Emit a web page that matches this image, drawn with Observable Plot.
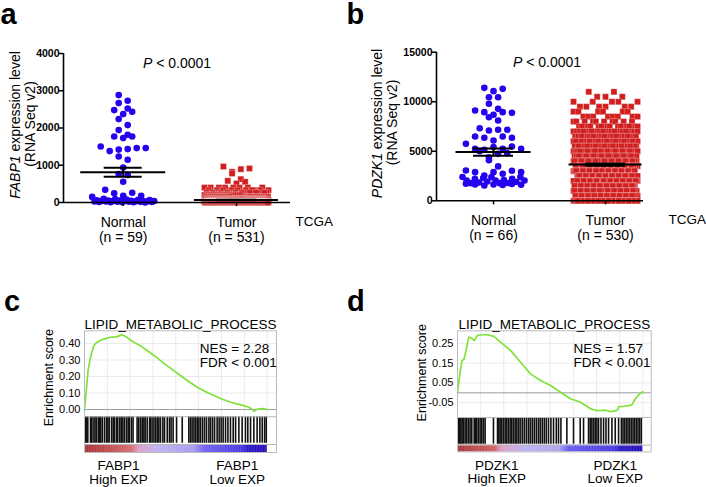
<!DOCTYPE html>
<html><head><meta charset="utf-8">
<script src="https://cdn.jsdelivr.net/npm/d3@7"></script>
<script src="https://cdn.jsdelivr.net/npm/@observablehq/plot@0.6"></script>
<style>
body{margin:0;background:#fff;}
#fig{position:relative;width:706px;height:487px;overflow:hidden;background:#fff;font-family:"Liberation Sans",Arial,sans-serif;}
.panel{position:absolute}
.panel svg{overflow:visible}
#letters{position:absolute;left:0;top:0;pointer-events:none}
</style></head><body><div id="fig"></div><script>
// ---------------- data ----------------
const groupNames = ["Normal", "Tumor"];
const fabp1N = [59, 531];
const pdzk1N = [66, 530];
const fabp1Ticks = [0, 1000, 2000, 3000, 4000];
const pdzk1Ticks = [0, 5000, 10000, 15000];

const fabp1Normal = [2883,2730,2668,2523,2480,2435,2373,2239,2078,1944,1817,1772,1772,1729,1503,1460,1460,1433,1420,1380,1235,1146,940,762,735,556,
  340,260,250,180,180,150,
  100,90,80,70,65,60,55,50,48,45,42,40,38,35,32,30,28,25,22,20,18,15,12,10,8,5,3];
// [value, count]
const fabp1TumorBins = [[966,1],[913,1],[895,1],[823,1],[779,1],[626,1],[582,1],[555,1],[510,1],
  [400,8],[330,10],[260,14],[200,18],[150,24],[100,35],[60,70],[30,100],[10,130],[0,113]];

const pdzk1Normal = [11400,11300,11070,10460,10460,9790,9280,9110,8950,8950,8880,8680,8440,8110,7330,7170,7170,7100,6490,6490,6360,6360,6090,
  5750,5480,5420,5250,5250,5250,5150,5010,4810,4740,4400,4100,
  3470,3060,3030,2890,2890,2890,2730,2560,2400,2390,2390,2300,2220,2220,2100,2050,2050,2050,1950,1900,1850,1800,1780,1780,1720,1700,1650,1650,1620,1600,1550];
const pdzk1TumorBins = [[11000,2],[10500,3],[10000,5],[9500,6],[9000,6],[8500,8],[8000,10],[7500,14],[7000,19],[6500,21],[6000,24],
  [5500,29],[5000,30],[4500,31],[4000,32],[3500,33],[3000,34],[2500,35],[2000,35],[1500,36],[1000,36],[500,36],[0,45]];

// GSEA running enrichment score: [rank fraction, ES]
const fabp1Curve = [[0,-0.005],[0.01,0.12],[0.02,0.24],[0.033,0.317],[0.051,0.388],[0.069,0.408],[0.1,0.425],[0.142,0.438],[0.175,0.44],[0.206,0.453],[0.23,0.44],[0.252,0.42],[0.3,0.39],[0.343,0.358],[0.39,0.32],[0.434,0.28],[0.48,0.243],[0.525,0.206],[0.57,0.17],[0.617,0.135],[0.66,0.11],[0.708,0.085],[0.755,0.062],[0.8,0.044],[0.85,0.03],[0.89,0.018],[0.91,0.008],[0.927,-0.01],[0.945,0.002],[0.963,0.004],[0.98,0.006],[1.0,0.0]];
const pdzk1Curve = [[0,0],[0.008,0.06],[0.015,0.11],[0.025,0.164],[0.035,0.17],[0.045,0.21],[0.052,0.24],[0.061,0.282],[0.07,0.28],[0.079,0.274],[0.092,0.265],[0.106,0.29],[0.13,0.294],[0.16,0.294],[0.196,0.286],[0.232,0.257],[0.286,0.215],[0.34,0.155],[0.394,0.096],[0.448,0.062],[0.502,0.037],[0.556,0.003],[0.61,-0.03],[0.664,-0.048],[0.718,-0.081],[0.754,-0.09],[0.8,-0.088],[0.824,-0.095],[0.86,-0.09],[0.87,-0.07],[0.9,-0.068],[0.94,-0.062],[0.95,-0.045],[0.96,-0.03],[0.977,-0.01],[0.99,0.0],[1.0,0.005]];
// gene-set hit ranks (per 1000)
const fabp1Hits = [5,11,18,33,38,47,57,64,75,82,88,97,109,120,128,135,148,157,164,175,182,193,201,210,219,230,239,246,257,266,288,297,307,316,325,332,343,356,361,370,380,389,398,407,416,429,438,453,465,474,485,504,535,571,580,589,599,608,617,626,635,646,657,668,681,690,701,712,726,737,748,759,772,785,799,814,827,845,863,881,894,909,927,945,960,973,986,995];
const pdzk1Hits = [5,11,18,25,32,41,50,59,68,77,90,97,104,113,122,131,140,149,194,216,223,230,239,248,257,266,275,284,293,302,311,320,329,338,349,360,371,382,392,403,414,425,436,446,457,468,479,491,504,518,533,545,558,590,626,662,680,707,716,725,734,743,752,761,774,788,801,815,833,851,869,884,893,902,911,920,929,938,947,956,965,974,983,992];
const fabp1EsTicks = [0, 0.1, 0.2, 0.3, 0.4];
const pdzk1EsTicks = [-0.05, 0.05, 0.15, 0.25];
const geneSet = "LIPID_METABOLIC_PROCESS";
const fabp1Stats = ["NES = 2.28", "FDR < 0.001"];
const pdzk1Stats = ["NES = 1.57", "FDR < 0.001"];

// ---------------- helpers ----------------
const FONT = '"Liberation Sans", Arial, sans-serif';
const BLUE = "#2402ee", RED = "#d11f1f", GREEN = "#80e23a";
const expand = bins => bins.flatMap(([v, n]) => Array(n).fill(v));
const gcd = (a, b) => b ? gcd(b, a % b) : a;
const pickStride = n => { for (const s of [7,5,3,11,13,2]) if (s < n && gcd(s, n) === 1) return s; return 1; };
function groupRows(values, thr) {
  const sorted = values.slice().sort((a, b) => b - a);
  const rows = []; let cur = null;
  for (const v of sorted) { if (!cur || cur[0] - v > thr) { cur = [v]; rows.push(cur); } else cur.push(v); }
  return rows;
}
function italicize(svg, full, word) {
  d3.select(svg).selectAll("text").each(function () {
    if (this.textContent !== full || this.querySelector("tspan")) return;
    const i = full.indexOf(word);
    const parts = [[full.slice(0, i), false], [word, true], [full.slice(i + word.length), false]].filter(p => p[0]);
    this.textContent = "";
    for (const [s, it] of parts) {
      const t = document.createElementNS("http://www.w3.org/2000/svg", "tspan");
      t.textContent = s; if (it) t.setAttribute("font-style", "italic");
      this.appendChild(t);
    }
  });
}
function place(el, left, top) {
  const d = document.createElement("div");
  d.className = "panel"; d.style.left = left + "px"; d.style.top = top + "px";
  d.appendChild(el); document.getElementById("fig").appendChild(d);
}

function dotPanel(cfg) {
  const {width, height, ml, mr, mt, mb, xDomain, yDomain, yTicks, groups, ns, gene, labelDx, pDx, tcgaDx} = cfg;
  const pxX = (width - ml - mr) / (xDomain[1] - xDomain[0]);
  const pxY = (height - mt - mb) / (yDomain[1] - yDomain[0]);
  const pts = [], stats = [];
  groups.forEach((g, gi) => {
    const rows = groupRows(g.values, g.diam * 0.95 / pxY);
    rows.forEach(row => {
      const n = row.length;
      const s = n > 1 ? Math.min(g.spacing, g.maxWidth / (n - 1)) : 0;
      const stride = pickStride(n);
      row.forEach((v, i) => {
        const slot = (i * stride) % n;
        pts.push({g: gi, x: gi + (slot - (n - 1) / 2) * s / pxX, y: v});
      });
    });
    const m = d3.mean(g.values), sem = d3.deviation(g.values) / Math.sqrt(g.values.length);
    stats.push({gi, m, lo: m - sem, hi: m + sem, mh: g.meanHalf / pxX, sh: g.semHalf / pxX});
  });
  const semRows = stats.flatMap(d => [{...d, y: d.lo}, {...d, y: d.hi}]);
  const yl1 = `${gene} expression level`, yl2 = "(RNA Seq v2)";
  const svg = Plot.plot({
    width, height, marginLeft: ml, marginRight: mr, marginTop: mt, marginBottom: mb,
    style: {fontFamily: FONT, color: "black", background: "transparent"},
    x: {domain: xDomain},
    y: {domain: yDomain},
    marks: [
      Plot.dot(pts.filter(d => d.g === 0), {x: "x", y: "y", r: 3.3, fill: BLUE}),
      Plot.dot(pts.filter(d => d.g === 1), {x: "x", y: "y", r: 3.4, symbol: "square", fill: RED, stroke: "white", strokeWidth: 0.25}),
      Plot.ruleY(stats, {y: "m", x1: d => d.gi - d.mh, x2: d => d.gi + d.mh, stroke: "black", strokeWidth: 2}),
      Plot.ruleY(semRows, {y: "y", x1: d => d.gi - d.sh, x2: d => d.gi + d.sh, stroke: "black", strokeWidth: 2}),
      Plot.ruleX(stats, {x: "gi", y1: "lo", y2: "hi", stroke: "black", strokeWidth: 2}),
      Plot.ruleY([yDomain[0]], {stroke: "black", strokeWidth: 1.6}),
      Plot.ruleX([xDomain[0]], {stroke: "black", strokeWidth: 1.6}),
      Plot.axisY({ticks: yTicks, tickFormat: d => String(d), tickSize: 4, tickPadding: 0, fontSize: 10.5, fontWeight: "bold", strokeWidth: 1.5}),
      Plot.axisX({ticks: [0, 1], tickFormat: i => `${groupNames[i]}\n(n = ${ns[i]})`, tickSize: 4, tickPadding: 10, fontSize: 14, lineHeight: 1.05, strokeWidth: 1.5}),
      Plot.text(["TCGA"], {frameAnchor: "bottom-right", textAnchor: "start", lineAnchor: "top", dx: tcgaDx, dy: 14, fontSize: 13.5}),
      Plot.text(["P < 0.0001"], {frameAnchor: "top", dx: pDx, dy: 4.5, fontSize: 14}),
      Plot.text([yl1], {frameAnchor: "left", textAnchor: "middle", rotate: -90, dx: labelDx[0], dy: -3, fontSize: 14}),
      Plot.text([yl2], {frameAnchor: "left", textAnchor: "middle", rotate: -90, dx: labelDx[1], dy: -4, fontSize: 14})
    ]
  });
  italicize(svg, yl1, gene);
  italicize(svg, "P < 0.0001", "P");
  return svg;
}

function gseaPanel(cfg) {
  const {width, height, ml, mr, mt, esPx, barPx, gradPx, esTop, esBottom, xMax, curve, hits, ticks, stops, stats, gene, labelX, statDx, esLabel} = cfg;
  const k = esPx / (esTop - esBottom);
  const barBottom = esBottom - barPx / k;
  const gradBottom = barBottom - gradPx / k;
  const mb = height - mt - esPx - barPx - gradPx;
  const step = 0.004;
  const bins = d3.range(0, 1, step);
  const vgrid = d3.range(0.125, 1.05, 0.125);
  const labels = [{x: labelX[0], t: `${gene}\nHigh EXP`}, {x: labelX[1], t: `${gene}\nLow EXP`}];
  return Plot.plot({
    width, height, marginLeft: ml, marginRight: mr, marginTop: mt, marginBottom: mb,
    style: {fontFamily: FONT, color: "black", background: "transparent"},
    x: {domain: [0, xMax], axis: null},
    y: {domain: [gradBottom, esTop]},
    color: {type: "linear", domain: stops.map(d => d[0]), range: stops.map(d => d[1]), interpolate: "rgb"},
    marks: [
      Plot.rect(bins, {x1: d => d, x2: d => Math.min(1, d + step * 1.4), y1: gradBottom, y2: barBottom, fill: d => d + step / 2}),
      Plot.ruleY(ticks, {stroke: "#ebebeb"}),
      Plot.ruleX(vgrid, {y1: esBottom, y2: esTop, stroke: "#ebebeb"}),
      Plot.ruleY([0], {stroke: "#9c9c9c", strokeWidth: 1}),
      Plot.ruleX(hits, {x: d => d / 1000, y1: barBottom + 0.15 * gradPx / k, y2: esBottom, stroke: "#111", strokeWidth: 1.6}),
      Plot.line(curve, {x: d => d[0], y: d => d[1], stroke: GREEN, strokeWidth: 1.7}),
      Plot.ruleY([esBottom, barBottom], {stroke: "#b5b5b5"}),
      Plot.frame({stroke: "#bdbdbd"}),
      Plot.axisY({ticks, tickFormat: d => d.toFixed(2), tickSize: 0, tickPadding: 4, fontSize: 11}),
      Plot.text([geneSet], {frameAnchor: "top", lineAnchor: "bottom", dy: -1.5, fontSize: 13.5}),
      Plot.text([stats[0]], {frameAnchor: "top-left", textAnchor: "start", dx: statDx, dy: 12.5, fontSize: 13.5}),
      Plot.text([stats[1]], {frameAnchor: "top-left", textAnchor: "start", dx: statDx, dy: 27, fontSize: 13.5}),
      Plot.text(["Enrichment score"], {frameAnchor: "left", textAnchor: "middle", rotate: -90, dx: esLabel[0], dy: esLabel[1], fontSize: 12.5}),
      Plot.text(labels, {x: "x", text: "t", frameAnchor: "bottom", lineAnchor: "top", dy: 8, fontSize: 13.5, lineHeight: 1.02})
    ]
  });
}

// ---------------- panels ----------------
place(dotPanel({
  width: 353, height: 243, ml: 63, mr: 63, mt: 53, mb: 41,
  xDomain: [-0.527, 1.477], yDomain: [0, 4000], yTicks: fabp1Ticks, ns: fabp1N, gene: "FABP1",
  labelDx: [-48, -33], pDx: 0, tcgaDx: 5,
  groups: [
    {values: fabp1Normal, diam: 6.6, spacing: 9, maxWidth: 62, meanHalf: 42.5, semHalf: 19},
    {values: expand(fabp1TumorBins), diam: 6, spacing: 8.7, maxWidth: 64, meanHalf: 42, semHalf: 20}
  ]
}), 0, 0);

place(dotPanel({
  width: 353, height: 243, ml: 83, mr: 63, mt: 51.7, mb: 42.7,
  xDomain: [-0.509, 1.339], yDomain: [0, 15000], yTicks: pdzk1Ticks, ns: pdzk1N, gene: "PDZK1",
  labelDx: [-59, -44], pDx: 7, tcgaDx: 25,
  groups: [
    {values: pdzk1Normal, diam: 6.6, spacing: 9.2, maxWidth: 62, meanHalf: 37.5, semHalf: 20},
    {values: expand(pdzk1TumorBins), diam: 6, spacing: 8.4, maxWidth: 64, meanHalf: 36.5, semHalf: 20}
  ]
}), 353, 0);

place(gseaPanel({
  width: 353, height: 244, ml: 84, mr: 77, mt: 87.3, esPx: 86, barPx: 27.7, gradPx: 8,
  esTop: 0.477, esBottom: -0.044, xMax: 1.051, curve: fabp1Curve, hits: fabp1Hits, ticks: fabp1EsTicks,
  stops: [[0,"#a52e30"],[0.13,"#bf4446"],[0.26,"#d46a6e"],[0.3,"#dc9cc4"],[0.4,"#bcb0f0"],[0.6,"#a498f0"],[0.66,"#6c5cf0"],[0.86,"#4434e0"],[0.9,"#2812c8"],[1,"#2008b8"]],
  stats: fabp1Stats, gene: "FABP1", labelX: [0.186, 0.836], statDx: 115.3, esLabel: [-35.7, -14]
}), 0, 243);

place(gseaPanel({
  width: 353, height: 244, ml: 104, mr: 55.3, mt: 87.3, esPx: 86.7, barPx: 27.7, gradPx: 6.7,
  esTop: 0.314, esBottom: -0.125, xMax: 1.045, curve: pdzk1Curve, hits: pdzk1Hits, ticks: pdzk1EsTicks,
  stops: [[0,"#a83030"],[0.2,"#d05a5c"],[0.24,"#dc9cc4"],[0.35,"#bcb0f0"],[0.55,"#aca0f0"],[0.6,"#6456f0"],[0.85,"#4434e0"],[0.88,"#2812c8"],[1,"#2008b8"]],
  stats: pdzk1Stats, gene: "PDZK1", labelX: [0.212, 0.851], statDx: 116, esLabel: [-35.7, -18.6]
}), 353, 243);

// panel letters
const letters = d3.select("#fig").append("svg").attr("id", "letters").attr("width", 706).attr("height", 487);
[["a", 0.5, 24], ["b", 346.5, 24], ["c", 4, 311], ["d", 347, 311]].forEach(([t, x, y]) =>
  letters.append("text").attr("x", x).attr("y", y).attr("font-family", FONT).attr("font-weight", "bold").attr("font-size", 29).text(t));
</script></body></html>
